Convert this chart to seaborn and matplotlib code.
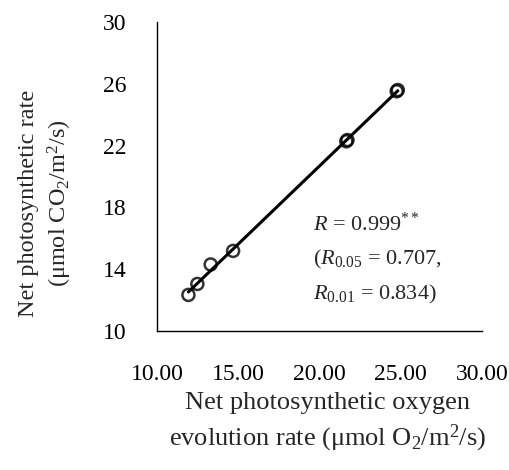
import matplotlib
matplotlib.use("Agg")
import matplotlib.pyplot as plt
import seaborn as sns
import pandas as pd

oxygen_rate = [11.93, 12.48, 13.30, 14.68, 21.65, 21.72, 24.75, 24.82]
photo_rate = [12.33, 13.04, 14.30, 15.18, 22.28, 22.36, 25.52, 25.60]
x_ticks = [10, 15, 20, 25, 30]
y_ticks = [10, 14, 18, 22, 26, 30]

sns.set_theme(style="white")
plt.rcParams['font.family'] = ['Liberation Serif', 'DejaVu Serif']
plt.rcParams['mathtext.fontset'] = 'custom'
plt.rcParams['mathtext.rm'] = 'Liberation Serif'
plt.rcParams['mathtext.it'] = 'Liberation Serif:italic'

df = pd.DataFrame({"x": oxygen_rate, "y": photo_rate})

fig = plt.figure(figsize=(5.1, 4.7), dpi=100)
ax = fig.add_axes([0.308, 0.296, 0.637, 0.657])
sns.regplot(data=df, x="x", y="y", ax=ax, ci=None, truncate=True,
            scatter_kws=dict(s=75, facecolors='none', edgecolors='black', linewidths=1.8),
            line_kws=dict(color='black', lw=2.2), color='black')

ax.set_xlim(10, 30)
ax.set_ylim(10, 30)
ax.set_xticks(x_ticks)
ax.set_xticklabels([f"{v:.2f}" for v in x_ticks])
ax.set_yticks(y_ticks)
ax.set_yticklabels([str(v) for v in y_ticks])
for s in ['top', 'right']:
    ax.spines[s].set_visible(False)
for s in ['left', 'bottom']:
    ax.spines[s].set_color('black')
    ax.spines[s].set_linewidth(1.0)
ax.tick_params(axis='both', direction='in', length=6, width=1, colors='black', labelsize=17)
ax.tick_params(axis='x', pad=24)
ax.tick_params(axis='y', pad=22)

ax.set_xlabel("Net photosynthetic oxygen\nevolution rate (μmol O$_2$/m$^2$/s)", fontsize=19, linespacing=1.36, va='center')
ax.xaxis.set_label_coords(0.525, -0.299)
ax.set_ylabel("Net photosynthetic rate\n(μmol CO$_2$/m$^2$/s)", fontsize=17.5, linespacing=1.36, va='center')
ax.yaxis.set_label_coords(-0.342, 0.414)

ax.text(0.48, 0.345, "$\\mathit{R}$ = 0.999$^{**}$", transform=ax.transAxes, fontsize=16, va='center')
ax.text(0.48, 0.232, "($\\mathit{R}_{\\mathrm{0.05}}$ = 0.707,", transform=ax.transAxes, fontsize=16, va='center')
ax.text(0.48, 0.117, "$\\mathit{R}_{\\mathrm{0.01}}$ = 0.834)", transform=ax.transAxes, fontsize=16, va='center')

fig.savefig("out.png", dpi=100)
